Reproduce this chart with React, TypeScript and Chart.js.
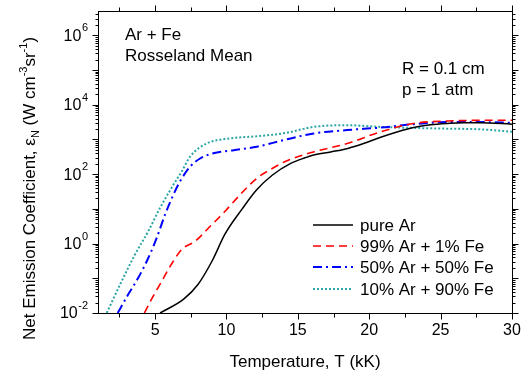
import React, { useEffect, useRef } from 'react';
import { Chart, registerables } from 'chart.js';

Chart.register(...registerables);

// ---- Data (temperature in kK, net emission coefficient in W cm^-3 sr^-1) ----
const pureArT = [5.35, 7.0, 8.0, 9.0, 9.9, 11.1, 12.1, 13.2, 14.5, 15.5, 16.1, 17.3, 18.5, 19.6, 20.8, 22.0, 23.1, 24.3, 25.5, 26.6, 27.8, 30];
const pureArE = [0.01, 0.025, 0.066, 0.32, 1.9, 10, 35, 93, 204, 295, 355, 437, 550, 760, 1150, 1660, 2190, 2630, 2880, 3020, 3020, 2750];

const ar99T = [4.25, 4.75, 5.47, 6.05, 6.87, 7.81, 8.74, 9.92, 10.97, 12.13, 13.2, 14.2, 16.1, 18.45, 20.8, 23.1, 25.5, 27.8, 30];
const ar99E = [0.01, 0.025, 0.083, 0.22, 0.68, 1.17, 2.8, 8.7, 26, 76, 145, 240, 437, 760, 1660, 2880, 3390, 3550, 3550];

const ar50T = [2.38, 3.13, 3.83, 4.53, 5.12, 5.7, 6.29, 6.76, 7.44, 8.15, 9.08, 10.5, 12.13, 14.0, 16.1, 18.45, 20.8, 23.1, 25.5, 27.8, 30];
const ar50E = [0.01, 0.035, 0.105, 0.39, 1.48, 6.9, 26, 63, 162, 282, 398, 490, 617, 955, 1480, 1860, 2190, 2750, 3160, 3160, 3020];

const ar10T = [1.61, 2.66, 3.6, 4.53, 5.35, 6.29, 6.9, 7.44, 8.6, 10.25, 12.13, 14.2, 16.1, 18.45, 20.8, 23.1, 25.5, 27.8, 30];
const ar10E = [0.01, 0.083, 0.49, 2.3, 10.7, 50, 126, 316, 760, 1070, 1230, 1550, 2290, 2570, 2290, 2140, 2040, 1950, 1660];

const seriesLabels = ['pure Ar', '99% Ar + 1% Fe', '50% Ar + 50% Fe', '10% Ar + 90% Fe'];

// ---- Axis ticks ----
const xMajorTicks = [5, 10, 15, 20, 25, 30];
const xTickLabels = ['5', '10', '15', '20', '25', '30'];
const xMinorTicks = [2.5, 7.5, 12.5, 17.5, 22.5, 27.5];
const yDecadeExponents = [-2, -1, 0, 1, 2, 3, 4, 5, 6];
const yLabelExponents = [-2, 0, 2, 4, 6];
const yLabelTexts = ['-2', '0', '2', '4', '6'];

const X_MIN = 1;
const X_MAX = 30;
const Y_MIN = 0.01;
const Y_MAX = 5e6;

const FONT = '"Liberation Sans", Arial, sans-serif';

const styles = [
  { color: '#000000', width: 1.5, dash: [] as number[] },
  { color: '#ff0000', width: 1.6, dash: [8, 5] },
  { color: '#0000ff', width: 2, dash: [9, 4, 2, 4] },
  { color: '#2ca5a5', width: 2, dash: [2, 2] },
];

const toPoints = (xs: number[], ys: number[]) => xs.map((x, i) => ({ x, y: ys[i] }));

const decoPlugin = {
  id: 'deco',
  afterDatasetsDraw(chart: any) {
    const ctx: CanvasRenderingContext2D = chart.ctx;
    const { left, right, top, bottom } = chart.chartArea;
    const xs = chart.scales.x;
    const ys = chart.scales.y;
    ctx.save();

    // Frame
    ctx.strokeStyle = '#000';
    ctx.lineWidth = 1;
    ctx.setLineDash([]);
    ctx.strokeRect(left + 0.5, top + 0.5, right - left, bottom - top);

    // X ticks (outward, bottom and top)
    ctx.beginPath();
    const xTick = (v: number, len: number) => {
      const px = Math.round(xs.getPixelForValue(v)) + 0.5;
      ctx.moveTo(px, bottom + 0.5);
      ctx.lineTo(px, bottom + 0.5 + len);
      ctx.moveTo(px, top + 0.5);
      ctx.lineTo(px, top + 0.5 - len);
    };
    xMajorTicks.forEach((v) => xTick(v, 6));
    xMinorTicks.forEach((v) => xTick(v, 4));

    // Y ticks (outward, left and right)
    const yTick = (v: number, len: number) => {
      const py = Math.round(ys.getPixelForValue(v)) + 0.5;
      ctx.moveTo(left + 0.5, py);
      ctx.lineTo(left + 0.5 - len, py);
      ctx.moveTo(right + 0.5, py);
      ctx.lineTo(right + 0.5 + len, py);
    };
    yDecadeExponents.forEach((e) => {
      const base = Math.pow(10, e);
      if (base <= Y_MAX) yTick(base, 6);
      for (let m = 2; m <= 9; m++) {
        const v = m * base;
        if (v < Y_MAX) yTick(v, 3);
      }
    });
    ctx.stroke();

    // X tick labels
    ctx.fillStyle = '#000';
    ctx.font = `16px ${FONT}`;
    ctx.textAlign = 'center';
    ctx.textBaseline = 'middle';
    xMajorTicks.forEach((v, i) => {
      ctx.fillText(xTickLabels[i], xs.getPixelForValue(v), 331);
    });

    // Y tick labels: 10^n
    yLabelExponents.forEach((e, i) => {
      const py = ys.getPixelForValue(Math.pow(10, e));
      const rightEdge = 88;
      ctx.font = `11px ${FONT}`;
      ctx.textAlign = 'right';
      ctx.textBaseline = 'middle';
      const expW = ctx.measureText(yLabelTexts[i]).width;
      ctx.fillText(yLabelTexts[i], rightEdge, py - 7);
      ctx.font = `16px ${FONT}`;
      ctx.fillText('10', rightEdge - expW - 0.5, py + 1);
    });

    // X title
    ctx.font = `17px ${FONT}`;
    ctx.textAlign = 'center';
    ctx.textBaseline = 'middle';
    ctx.fillText('Temperature, T (kK)', (left + right) / 2, 362);

    // Y title (rotated)
    ctx.save();
    ctx.translate(35, 340);
    ctx.rotate(-Math.PI / 2);
    ctx.textAlign = 'left';
    ctx.textBaseline = 'alphabetic';
    let cx = 0;
    const piece = (t: string, size: number, dy: number) => {
      ctx.font = `${size}px ${FONT}`;
      ctx.fillText(t, cx, dy);
      cx += ctx.measureText(t).width;
    };
    piece('Net Emission Coefficient, ε', 17, 0);
    piece('N', 11, 4);
    piece(' (W cm', 17, 0);
    piece('-3', 11, -8);
    piece('sr', 17, 0);
    piece('-1', 11, -8);
    piece(')', 17, 0);
    ctx.restore();

    // Annotations
    ctx.font = `17px ${FONT}`;
    ctx.textAlign = 'left';
    ctx.textBaseline = 'alphabetic';
    ctx.fillText('Ar + Fe', 125, 40);
    ctx.fillText('Rosseland Mean', 125, 61);
    ctx.fillText('R = 0.1 cm', 402, 74);
    ctx.fillText('p = 1 atm', 402, 95);

    // Legend
    const rowsY = [225, 246, 267, 289];
    seriesLabels.forEach((lab, i) => {
      const st = styles[i];
      const y = rowsY[i];
      ctx.beginPath();
      ctx.strokeStyle = st.color;
      ctx.lineWidth = st.width;
      ctx.setLineDash(st.dash);
      ctx.moveTo(313, y);
      ctx.lineTo(353, y);
      ctx.stroke();
      ctx.setLineDash([]);
      ctx.fillStyle = '#000';
      ctx.font = `17px ${FONT}`;
      ctx.textBaseline = 'middle';
      ctx.fillText(lab, 360, y + 1);
    });

    ctx.restore();
  },
};

export default function App() {
  const ref = useRef<HTMLCanvasElement | null>(null);

  useEffect(() => {
    if (!ref.current) return;
    const mk = (xs: number[], ys: number[], i: number) => ({
      label: seriesLabels[i],
      data: toPoints(xs, ys),
      borderColor: styles[i].color,
      backgroundColor: styles[i].color,
      borderWidth: styles[i].width,
      borderDash: styles[i].dash,
      pointRadius: 0,
      fill: false,
      cubicInterpolationMode: 'monotone' as const,
    });
    const chart = new Chart(ref.current, {
      type: 'line',
      data: {
        datasets: [
          mk(pureArT, pureArE, 0),
          mk(ar99T, ar99E, 1),
          mk(ar50T, ar50E, 2),
          mk(ar10T, ar10E, 3),
        ],
      },
      options: {
        responsive: false,
        animation: false,
        devicePixelRatio: 1,
        layout: { padding: { left: 98, right: 10, top: 11, bottom: 63 } },
        plugins: { legend: { display: false }, tooltip: { enabled: false } },
        scales: {
          x: { type: 'linear', min: X_MIN, max: X_MAX, display: false },
          y: { type: 'logarithmic', min: Y_MIN, max: Y_MAX, display: false },
        },
      },
      plugins: [decoPlugin],
    });
    return () => chart.destroy();
  }, []);

  return (
    <div style={{ position: 'absolute', left: 0, top: 0, width: 522, height: 376, background: '#fff' }}>
      <canvas ref={ref} width={522} height={376} />
    </div>
  );
}
